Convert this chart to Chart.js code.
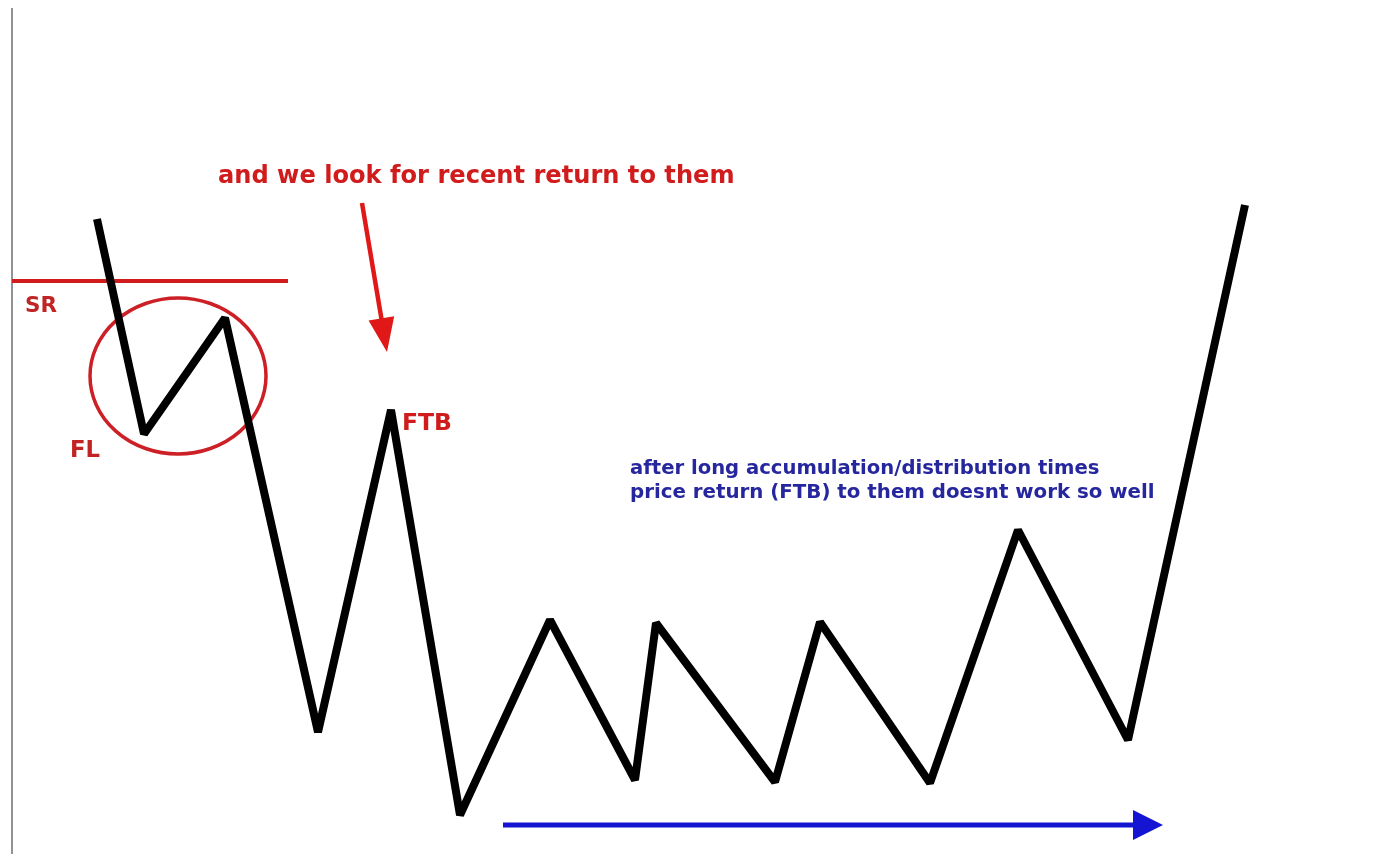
<!DOCTYPE html>
<html>
<head>
<meta charset="utf-8">
<script src="https://cdn.jsdelivr.net/npm/chart.js@4/dist/chart.umd.min.js"></script>
<style>
  html, body { margin: 0; padding: 0; background: #fff; }
  canvas { display: block; }
</style>
</head>
<body>
<canvas id="grafik" width="1382" height="854"></canvas>
<script>
// swing points of the price path (time units, price units)
const waktu = [9.7, 14.4, 22.5, 31.8, 39.1, 46.0, 55.0, 63.5, 65.6, 77.5, 82.0, 93.0, 101.8, 112.8, 124.5];
const harga = [63.5, 42.0, 53.6, 12.2, 44.4, 3.9, 23.4, 7.4, 23.1, 7.2, 23.2, 7.1, 32.4, 11.4, 64.9];

const levelSR = 57.3;
const judul = "and we look for recent return to them";
const catatanBiru = [
  "after long accumulation/distribution times",
  "price return (FTB) to them doesnt work so well"
];

const MERAH = "#d01c1c";
const BIRU_GARIS = "#1414d2";
const BIRU_TEKS = "#26269e";

function tulis(ctx, teks, x, y, lebar, berat, warna) {
  ctx.font = `${berat} 100px "DejaVu Sans"`;
  const ukuran = 100 * lebar / ctx.measureText(teks).width;
  ctx.font = `${berat} ${ukuran.toFixed(2)}px "DejaVu Sans"`;
  ctx.fillStyle = warna;
  ctx.textBaseline = "alphabetic";
  ctx.textAlign = "left";
  ctx.fillText(teks, x, y);
}

function panah(ctx, x1, y1, x2, y2, tebal, panjang, lebarKepala, warna) {
  const sudut = Math.atan2(y2 - y1, x2 - x1);
  const bx = x2 - Math.cos(sudut) * panjang;
  const by = y2 - Math.sin(sudut) * panjang;
  ctx.strokeStyle = warna;
  ctx.fillStyle = warna;
  ctx.lineWidth = tebal;
  ctx.lineCap = "butt";
  ctx.beginPath();
  ctx.moveTo(x1, y1);
  ctx.lineTo(bx + Math.cos(sudut) * 2, by + Math.sin(sudut) * 2);
  ctx.stroke();
  const nx = -Math.sin(sudut), ny = Math.cos(sudut);
  ctx.beginPath();
  ctx.moveTo(x2, y2);
  ctx.lineTo(bx + nx * lebarKepala, by + ny * lebarKepala);
  ctx.lineTo(bx - nx * lebarKepala, by - ny * lebarKepala);
  ctx.closePath();
  ctx.fill();
}

const latarCatatan = {
  id: "latarCatatan",
  beforeDatasetsDraw(chart) {
    const { ctx, scales: { x, y } } = chart;
    ctx.save();
    // left border line
    ctx.strokeStyle = "#6e6e6e";
    ctx.lineWidth = 1.5;
    ctx.beginPath();
    ctx.moveTo(x.getPixelForValue(1.2), y.getPixelForValue(84.6));
    ctx.lineTo(x.getPixelForValue(1.2), y.getPixelForValue(0));
    ctx.stroke();
    // SR level
    ctx.strokeStyle = MERAH;
    ctx.lineWidth = 4;
    ctx.beginPath();
    ctx.moveTo(x.getPixelForValue(1.2), y.getPixelForValue(levelSR));
    ctx.lineTo(x.getPixelForValue(28.8), y.getPixelForValue(levelSR));
    ctx.stroke();
    // circle round the FL swing
    const cx = x.getPixelForValue(17.8), cy = y.getPixelForValue(47.8);
    const rx = x.getPixelForValue(26.6) - cx, ry = cy - y.getPixelForValue(55.6);
    ctx.strokeStyle = "#cc2026";
    ctx.lineWidth = 3.5;
    ctx.beginPath();
    ctx.ellipse(cx, cy, rx, ry, 0, 0, Math.PI * 2);
    ctx.stroke();
    ctx.restore();
  },
  afterDatasetsDraw(chart) {
    const { ctx, scales: { x, y } } = chart;
    ctx.save();
    panah(ctx, x.getPixelForValue(36.2), y.getPixelForValue(65.1),
      x.getPixelForValue(38.7), y.getPixelForValue(50.2), 4.5, 34, 13, "#e01818");
    panah(ctx, x.getPixelForValue(50.3), y.getPixelForValue(2.9),
      x.getPixelForValue(116.3), y.getPixelForValue(2.9), 5, 30, 15, BIRU_GARIS);

    tulis(ctx, judul, x.getPixelForValue(21.8), y.getPixelForValue(67.1), 517, "bold", MERAH);
    tulis(ctx, "SR", x.getPixelForValue(2.5), y.getPixelForValue(54.2), 32, "bold", "#c02424");
    tulis(ctx, "FL", x.getPixelForValue(7.0), y.getPixelForValue(39.7), 30, "bold", "#c02424");
    tulis(ctx, "FTB", x.getPixelForValue(40.2), y.getPixelForValue(42.4), 50, "bold", MERAH);
    tulis(ctx, catatanBiru[0], x.getPixelForValue(63.0), y.getPixelForValue(38.0), 470, "bold", BIRU_TEKS);
    tulis(ctx, catatanBiru[1], x.getPixelForValue(63.0), y.getPixelForValue(35.6), 525, "bold", BIRU_TEKS);
    ctx.restore();
  }
};

new Chart(document.getElementById("grafik"), {
  type: "scatter",
  data: {
    datasets: [{
      data: waktu.map((t, i) => ({ x: t, y: harga[i] })),
      showLine: true,
      borderColor: "#000",
      borderWidth: 8,
      borderJoinStyle: "bevel",
      borderCapStyle: "butt",
      pointRadius: 0,
      tension: 0
    }]
  },
  options: {
    responsive: false,
    animation: false,
    events: [],
    layout: { padding: 0 },
    scales: {
      x: { type: "linear", min: 0, max: 138.2, display: false },
      y: { type: "linear", min: 0, max: 85.4, display: false }
    },
    plugins: { legend: { display: false }, tooltip: { enabled: false } }
  },
  plugins: [latarCatatan]
});
</script>
</body>
</html>
